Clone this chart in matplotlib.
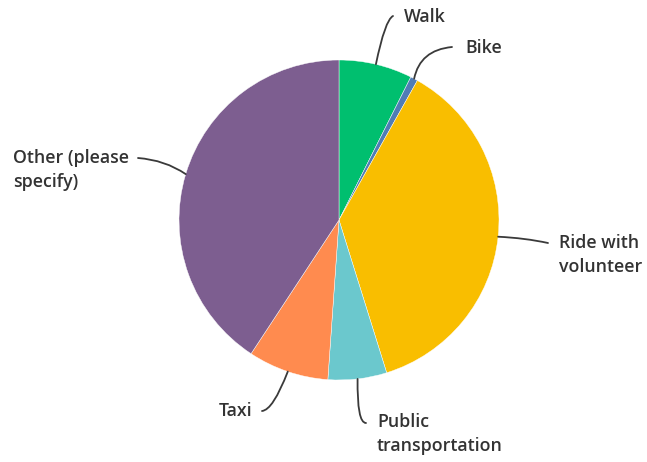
import numpy as np
import matplotlib
matplotlib.use("Agg")
import matplotlib.pyplot as plt
from matplotlib.path import Path
from matplotlib.patches import PathPatch

# Survey responses: how do you get there?
categories = ["Walk", "Bike", "Ride with\nvolunteer", "Public\ntransportation", "Taxi", "Other (please\nspecify)"]
counts = [10, 1, 50, 8, 11, 55]
colors = ["#00BF6F", "#507CB6", "#F9BE00", "#6BC8CD", "#FF8B4F", "#7D5E90"]

W, H = 647, 462
CX, CY, R = 339, 220, 160  # pie centre / radius in pixels


def px(x, y):
    """Pixel position -> data coordinates (pie radius = 1)."""
    return ((x - CX) / R, (CY - y) / R)


fig = plt.figure(figsize=(W / 100, H / 100), dpi=100)
ax = fig.add_axes([0, 0, 1, 1])
wedges, _ = ax.pie(counts, colors=colors, startangle=90, counterclock=False,
                   radius=1.0, wedgeprops=dict(edgecolor="white", linewidth=0.3))
ax.set_xlim(-CX / R, (W - CX) / R)
ax.set_ylim((CY - H) / R, CY / R)
ax.set_aspect("equal")
ax.axis("off")

# label anchor (pixels), curve control point (pixels), text alignment
label_layout = [
    dict(end=(393, 16), ctrl=(385, 20), text=(404, 17), ha="left"),
    dict(end=(452, 47), ctrl=(420, 50), text=(465, 48), ha="left"),
    dict(end=(548, 243), ctrl=(525, 238), text=(559, 255), ha="left"),
    dict(end=(366, 423), ctrl=(357, 423), text=(377, 434), ha="left"),
    dict(end=(262, 411), ctrl=(273, 410), text=(252, 411), ha="right"),
    dict(end=(138, 158), ctrl=(165, 160), text=(13, 170), ha="left"),
]

text_color = "#333333"
line_color = "#3a3a3a"
for w, label, lay in zip(wedges, categories, label_layout):
    mid = np.deg2rad((w.theta1 + w.theta2) / 2)
    start = (np.cos(mid), np.sin(mid))
    ctrl = px(*lay["ctrl"])
    end = px(*lay["end"])
    path = Path([start, ctrl, end], [Path.MOVETO, Path.CURVE3, Path.CURVE3])
    ax.add_patch(PathPatch(path, facecolor="none", edgecolor=line_color, lw=1.3,
                           capstyle="round", zorder=3))
    tx, ty = px(*lay["text"])
    ax.text(tx, ty, label, ha=lay["ha"], va="center", fontsize=12.8,
            family="Open Sans", fontweight="semibold", color=text_color,
            linespacing=1.38)

fig.savefig("out.png", dpi=100, facecolor="white")
